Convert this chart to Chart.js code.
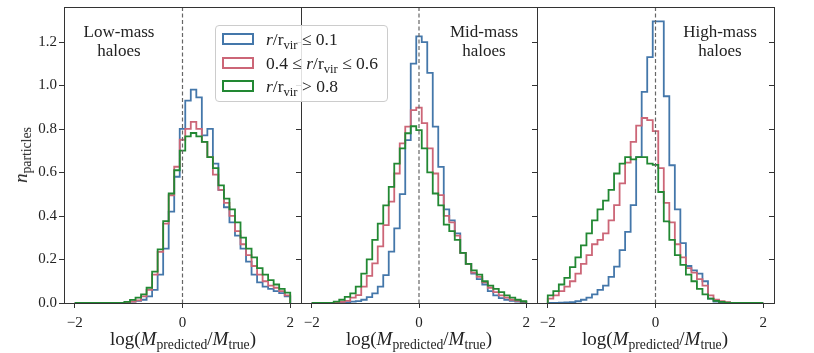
<!DOCTYPE html>
<html>
<head>
<meta charset="utf-8">
<script src="https://cdn.jsdelivr.net/npm/chart.js@4.4.1/dist/chart.umd.min.js"></script>
<style>
  body { margin: 0; background: #fff; }
  #wrap { position: relative; width: 814px; height: 353px; overflow: hidden; font-family: "Liberation Serif", "DejaVu Serif", serif; color: #222; }
  canvas { position: absolute; top: 0; }
  .lbl { position: absolute; transform: translate(-50%, -50%); white-space: nowrap; text-align: center; }
  .note { font-size: 17px; line-height: 19px; }
  .xt { font-size: 19px; }
  .xt sub, .yt sub, .leg sub { font-size: 72%; vertical-align: -0.3em; line-height: 0; }
  .yt { font-size: 19px; transform: translate(-50%, -50%) rotate(-90deg); }
  .leg { position: absolute; left: 215px; top: 25px; width: 171px; height: 75px; border: 1px solid #ccc; border-radius: 4px; background: rgba(255,255,255,0.85); font-size: 17.5px; z-index: 5; }
  .row { position: absolute; left: 6px; height: 22px; display: flex; align-items: center; }
  .sw { width: 28px; height: 8px; border: 2px solid; margin-right: 12px; }
</style>
</head>
<body>
<div id="wrap">
  <canvas id="c1" width="310" height="353" style="left:0px"></canvas>
  <canvas id="c2" width="260" height="353" style="left:290px"></canvas>
  <canvas id="c3" width="288" height="353" style="left:526px"></canvas>

  <div class="lbl note" style="left:119px; top:41px">Low-mass<br>haloes</div>
  <div class="lbl note" style="left:484px; top:41px">Mid-mass<br>haloes</div>
  <div class="lbl note" style="left:720px; top:41px">High-mass<br>haloes</div>

  <div class="lbl xt" style="left:183px; top:339px">log(<i>M</i><sub>predicted</sub>/<i>M</i><sub>true</sub>)</div>
  <div class="lbl xt" style="left:419px; top:339px">log(<i>M</i><sub>predicted</sub>/<i>M</i><sub>true</sub>)</div>
  <div class="lbl xt" style="left:655px; top:339px">log(<i>M</i><sub>predicted</sub>/<i>M</i><sub>true</sub>)</div>

  <div class="lbl yt" style="left:21px; top:155px"><i>n</i><sub>particles</sub></div>

  <div class="leg">
    <div class="row" style="top:2px"><span class="sw" style="border-color:#4477AA"></span><span><i>r</i>/r<sub>vir</sub> ≤ 0.1</span></div>
    <div class="row" style="top:26px"><span class="sw" style="border-color:#CC6677"></span><span>0.4 ≤ <i>r</i>/r<sub>vir</sub> ≤ 0.6</span></div>
    <div class="row" style="top:49px"><span class="sw" style="border-color:#228833"></span><span><i>r</i>/r<sub>vir</sub> &gt; 0.8</span></div>
  </div>
</div>

<script>
// histogram binning: 39 bins between -2 and 2
const histRange = [-2, 2];
const nBins = 39;

const seriesNames = ["r/rvir <= 0.1", "0.4 <= r/rvir <= 0.6", "r/rvir > 0.8"];
const seriesColors = ["#4477AA", "#CC6677", "#228833"];

const xTicks = [-2, 0, 2];
const yTicks = [0, 0.2, 0.4, 0.6, 0.8, 1.0, 1.2];

// low-mass haloes
const lowBlue = [0,0,0,0,0,0,0,0,0, 0.003,0.006,0.01,0.015,0.03,0.06,0.13,0.25,0.42,0.58,
  0.80,0.93,0.98,0.945,0.77,0.80,0.64,0.52,0.44,0.37,0.31,0.25,0.19,0.13,0.095,0.075,0.065,0.055,0.045,0.03];
const lowRed = [0,0,0,0,0,0,0,0,0, 0.003,0.006,0.012,0.03,0.06,0.13,0.235,0.365,0.495,0.626,
  0.75,0.80,0.832,0.80,0.74,0.67,0.59,0.52,0.46,0.40,0.33,0.27,0.22,0.17,0.13,0.10,0.08,0.07,0.055,0.035];
const lowGreen = [0,0,0,0,0,0,0,0,0, 0.005,0.014,0.025,0.04,0.07,0.144,0.246,0.376,0.503,0.61,
  0.70,0.766,0.781,0.766,0.74,0.67,0.62,0.54,0.48,0.43,0.37,0.30,0.25,0.21,0.16,0.13,0.105,0.085,0.065,0.048];

// mid-mass haloes
const midBlue = [0,0,0,0,0,0, 0.003,0.006,0.009, 0.015,0.027,0.044,0.075,0.128,0.236,0.343,0.50,0.748,1.10,
  1.225,1.199,1.057,0.81,0.625,0.43,0.38,0.32,0.23,0.18,0.135,0.11,0.085,0.055,0.035,0.022,0.015,0.01,0.006,0.004];
const midRed = [0,0,0,0,0, 0.005,0.01,0.025,0.036, 0.075,0.125,0.182,0.26,0.358,0.466,0.595,0.733,0.81,0.886,
  0.898,0.826,0.71,0.595,0.496,0.40,0.37,0.31,0.23,0.18,0.14,0.12,0.095,0.07,0.05,0.035,0.025,0.015,0.01,0.006];
const midGreen = [0,0,0,0, 0.006,0.015,0.028,0.044,0.075, 0.135,0.20,0.29,0.365,0.449,0.534,0.64,0.71,0.78,0.812,
  0.794,0.71,0.60,0.503,0.449,0.36,0.33,0.29,0.23,0.18,0.15,0.13,0.10,0.08,0.065,0.05,0.035,0.025,0.015,0.008];

// high-mass haloes
const highBlue = [0.001,0.001,0.002,0.003,0.004,0.008,0.015,0.025,0.04, 0.06,0.08,0.12,0.167,0.243,0.327,0.45,0.67,0.97,1.13,
  1.294,1.294,0.95,0.633,0.43,0.275,0.17,0.15,0.135,0.10,0.02,0.006,0.003,0,0,0,0,0,0,0];
const highRed = [0.02,0.035,0.055,0.075,0.10,0.135,0.18,0.22,0.27, 0.29,0.32,0.38,0.45,0.55,0.645,0.74,0.815,0.85,0.84,
  0.79,0.62,0.46,0.37,0.27,0.21,0.16,0.14,0.11,0.08,0.035,0.015,0.008,0.004,0,0,0,0,0,0];
const highGreen = [0.035,0.055,0.085,0.115,0.165,0.21,0.265,0.32,0.38, 0.43,0.47,0.52,0.595,0.64,0.67,0.66,0.67,0.67,0.64,
  0.635,0.51,0.375,0.29,0.22,0.175,0.13,0.10,0.065,0.04,0.02,0.01,0.005,0.002,0,0,0,0,0,0];

const binEdges = Array.from({length: nBins + 1}, (_, k) => histRange[0] + (histRange[1] - histRange[0]) * k / nBins);

// outline of a step histogram: up at first edge, across each bin, down at last edge
function stepOutline(values) {
  const pts = [{x: binEdges[0], y: 0}];
  values.forEach((v, k) => {
    pts.push({x: binEdges[k], y: v});
    pts.push({x: binEdges[k + 1], y: v});
  });
  pts.push({x: binEdges[nBins], y: 0});
  return pts;
}

// frame, ticks (left out, right in) and dashed line at zero
const framePlugin = {
  id: "frame",
  afterDatasetsDraw(chart) {
    const {ctx, chartArea: a, scales: {x, y}} = chart;
    ctx.save();
    const x0 = x.getPixelForValue(0);
    ctx.strokeStyle = "#666";
    ctx.lineWidth = 1.2;
    ctx.setLineDash([4, 2.5]);
    ctx.beginPath();
    ctx.moveTo(x0, a.top);
    ctx.lineTo(x0, a.bottom);
    ctx.stroke();
    ctx.setLineDash([]);

    ctx.strokeStyle = "#333";
    ctx.lineWidth = 1;
    ctx.beginPath();
    yTicks.forEach(t => {
      const py = Math.round(y.getPixelForValue(t)) + 0.5;
      ctx.moveTo(a.left - 5, py); ctx.lineTo(a.left, py);
      ctx.moveTo(a.right - 5, py); ctx.lineTo(a.right, py);
    });
    ctx.stroke();
    ctx.strokeRect(Math.round(a.left) + 0.5, Math.round(a.top) + 0.5, Math.round(a.width), Math.round(a.height));
    ctx.restore();
  }
};

function makePanel(id, blue, red, green, showY, padRight, yWidth) {
  const sets = [blue, red, green].map((vals, i) => ({
    label: seriesNames[i],
    data: stepOutline(vals),
    borderColor: seriesColors[i],
    borderWidth: 1.8,
    pointRadius: 0,
    fill: false,
    tension: 0,
    order: 3 - i
  }));

  new Chart(document.getElementById(id), {
    type: "line",
    data: { datasets: sets },
    options: {
      responsive: false,
      animation: false,
      layout: { padding: { top: 7, right: padRight, left: 0, bottom: 0 } },
      plugins: { legend: { display: false }, tooltip: { enabled: false } },
      scales: {
        x: {
          type: "linear",
          min: -2.2, max: 2.2,
          afterBuildTicks: s => { s.ticks = xTicks.map(v => ({ value: v })); },
          afterFit: s => { s.height = 50; s.paddingLeft = 0; s.paddingRight = 0; },
          grid: { drawOnChartArea: false, drawTicks: true, tickLength: 5, color: "#333" },
          border: { display: false },
          ticks: {
            padding: 6,
            color: "#222",
            font: { family: "Liberation Serif", size: 15 },
            callback: v => v < 0 ? "\u2212" + Math.abs(v) : String(v)
          }
        },
        y: {
          min: 0, max: 1.36,
          afterBuildTicks: s => { s.ticks = yTicks.map(v => ({ value: v })); },
          afterFit: s => { s.width = yWidth; s.paddingTop = 0; s.paddingBottom = 0; },
          grid: { display: false, drawTicks: false },
          border: { display: false },
          ticks: {
            display: showY,
            padding: 7,
            color: "#222",
            font: { family: "Liberation Serif", size: 15 },
            callback: v => v.toFixed(1)
          }
        }
      }
    },
    plugins: [framePlugin]
  });
}

makePanel("c1", lowBlue, lowRed, lowGreen, true, 9, 64);
makePanel("c2", midBlue, midRed, midGreen, false, 13, 11);
makePanel("c3", highBlue, highRed, highGreen, false, 40, 11);
</script>
</body>
</html>
